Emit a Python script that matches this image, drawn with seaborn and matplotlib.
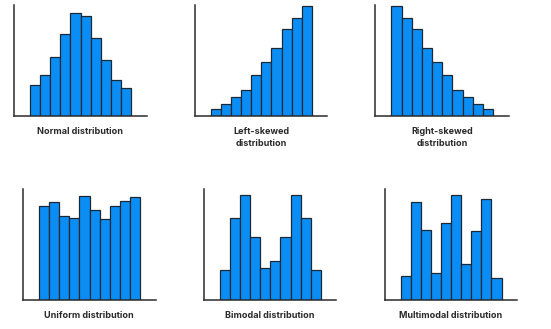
import matplotlib
matplotlib.use("Agg")
import matplotlib.pyplot as plt
import seaborn as sns
import pandas as pd

sns.set_theme(style="white")
plt.rcParams['font.family'] = ['Inter', 'DejaVu Sans']

bins = list(range(10))
normal = [28, 37, 53, 74, 93, 90, 70, 51, 33, 25]
left_skewed = [7, 11, 17, 24, 37, 49, 61, 78, 88, 99]
right_skewed = [99, 88, 78, 61, 49, 37, 24, 17, 11, 7]
uniform = [85, 88, 76, 74, 94, 81, 73, 85, 89, 93]
bimodal = [27, 74, 95, 57, 29, 35, 57, 95, 74, 27]
multimodal = [21, 88, 63, 24, 69, 95, 32, 62, 91, 20]

titles = ["Normal distribution", "Left-skewed\ndistribution", "Right-skewed\ndistribution",
          "Uniform distribution", "Bimodal distribution", "Multimodal distribution"]
series = [normal, left_skewed, right_skewed, uniform, bimodal, multimodal]

W, H = 551, 329
# axes rectangles in pixels: (left, top, width, height)
rects = [(14, 5, 132.7, 111.3), (195, 5, 132.3, 111.3), (375.3, 5, 133.4, 111.3),
         (23, 189, 132.7, 110.7), (204, 189, 132.3, 110.7), (384.7, 189, 132.3, 110.7)]

fig = plt.figure(figsize=(W / 100, H / 100), dpi=100)
fill = "#0A8EF6"
edge = "#1E2833"
for (l, t, w, h), vals, title in zip(rects, series, titles):
    ax = fig.add_axes([l / W, 1 - (t + h) / H, w / W, h / H])
    df = pd.DataFrame({"bin": bins, "count": vals})
    sns.barplot(data=df, x="bin", y="count", width=1.0, color=fill,
                edgecolor=edge, linewidth=0.9, saturation=1, ax=ax)
    ax.set_xlim(-2.08, 11.03)
    ax.set_ylim(0, 100)
    ax.set_xticks([])
    ax.set_yticks([])
    ax.set_xlabel("")
    ax.set_ylabel("")
    for s in ["top", "right"]:
        ax.spines[s].set_visible(False)
    for s in ["left", "bottom"]:
        ax.spines[s].set_color("#2b2b2b")
        ax.spines[s].set_linewidth(1.1)
    ax.set_facecolor("white")
    ax.text(0.5, -0.1, title, transform=ax.transAxes, ha="center", va="top",
            fontsize=6.5, fontweight="bold",
            color="#2a2a2a", linespacing=1.3)

fig.savefig("out.png", dpi=100, facecolor="white")
